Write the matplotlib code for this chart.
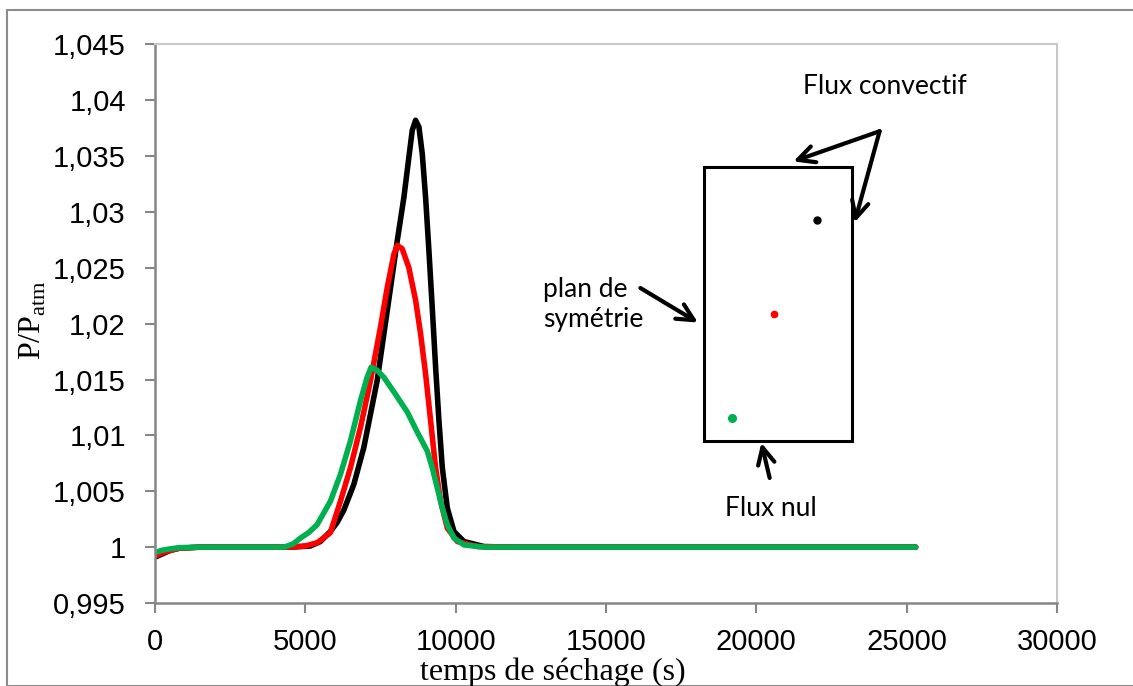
import matplotlib
matplotlib.use("Agg")
import matplotlib.pyplot as plt
from matplotlib.patches import Rectangle
from matplotlib.ticker import FuncFormatter, MultipleLocator

# black curve: point next to the convective face
t_black = [0, 250, 500, 800, 1500, 4500, 5167, 5500, 5833, 6056, 6278, 6611, 6944,
           7389, 7833, 8056, 8278, 8444, 8556, 8667, 8778, 8889, 9000, 9111, 9222,
           9333, 9444, 9556, 9722, 9944, 10278, 10944, 12000, 25300]
p_black = [0.9991, 0.9994, 0.9997, 0.9999, 1.0, 1.0, 1.0001, 1.0005, 1.0014, 1.0022,
           1.0033, 1.0056, 1.0089, 1.0149, 1.0232, 1.0274, 1.0313, 1.0349, 1.0373,
           1.0382, 1.0376, 1.0352, 1.0313, 1.0265, 1.0214, 1.0161, 1.0113, 1.0071,
           1.0035, 1.0014, 1.0005, 1.00005, 1.0, 1.0]

# red curve: centre point
t_red = [0, 250, 500, 800, 1500, 4500, 5000, 5400, 5833, 6167, 6500, 6833, 7167,
         7500, 7722, 7944, 8056, 8222, 8444, 8667, 8833, 9000, 9167, 9333, 9500,
         9722, 10056, 10722, 12000, 25300]
p_red = [0.9992, 0.9995, 0.9997, 0.9999, 1.0, 1.0, 1.0001, 1.0004, 1.0013, 1.0041,
         1.0071, 1.0107, 1.0149, 1.0197, 1.0232, 1.0262, 1.0270, 1.0267, 1.0250,
         1.0221, 1.0191, 1.0155, 1.0113, 1.0071, 1.0041, 1.0017, 1.0005, 1.00005,
         1.0, 1.0]

# green curve: point next to the symmetry plane
t_green = [0, 200, 400, 800, 1500, 4300, 4600, 4833, 5111, 5389, 5833, 6167, 6500,
           6833, 7056, 7189, 7400, 7611, 7944, 8389, 8722, 9056, 9222, 9389, 9556,
           9722, 9944, 10278, 10933, 12000, 25300]
p_green = [0.9995, 0.9997, 0.9998, 0.99995, 1.0, 1.0, 1.0003, 1.0008, 1.0013, 1.0020,
           1.0041, 1.0065, 1.0095, 1.0131, 1.0152, 1.0161, 1.0158, 1.0152, 1.0139,
           1.0121, 1.0103, 1.0086, 1.0071, 1.0053, 1.0035, 1.0020, 1.0008, 1.0002,
           1.0, 1.0, 1.0]

xticks = [0, 5000, 10000, 15000, 20000, 25000, 30000]

W, H = 1133, 686
fig = plt.figure(figsize=(W / 100, H / 100), dpi=100)
ax = fig.add_axes([155 / W, 1 - 603 / H, (1057 - 155) / W, (603 - 44.3) / H])

# outer chart frame
fig.patches.append(Rectangle((7 / W, 0), 1.2, 1 - 10 / H, transform=fig.transFigure,
                             fill=False, ec="#8c8c8c", lw=1.5))

for t, p, c in [(t_black, p_black, "black"), (t_red, p_red, "#ff0000"), (t_green, p_green, "#00b050")]:
    ax.plot(t, p, color=c, lw=4, solid_capstyle="round", solid_joinstyle="round")

ax.set_xlim(0, 30000)
ax.set_ylim(0.995, 1.045)
ax.set_xticks(xticks)
ax.yaxis.set_major_locator(MultipleLocator(0.005))
fmt = FuncFormatter(lambda v, pos: ("%g" % round(v, 4)).replace(".", ","))
ax.yaxis.set_major_formatter(fmt)
ax.xaxis.set_major_formatter(FuncFormatter(lambda v, pos: "%d" % v))

for s in ["left", "bottom"]:
    ax.spines[s].set_color("#868686")
    ax.spines[s].set_linewidth(1.8)
for s in ["top", "right"]:
    ax.spines[s].set_color("#c8c8c8")
    ax.spines[s].set_linewidth(1.5)
ax.tick_params(direction="out", length=7, width=1.5, color="#868686", labelsize=21)
ax.tick_params(axis="y", pad=14)
ax.tick_params(axis="x", pad=11)
for lab in ax.get_xticklabels() + ax.get_yticklabels():
    lab.set_fontfamily("Liberation Sans")

serif = {"family": "Liberation Serif", "size": 23}
fig.text(553 / W, 1 - 672 / H, "temps de séchage (s)", ha="center", va="center", fontdict=serif)
fig.text(33 / W, 1 - 320 / H, r"P/P$_{\mathregular{atm}}$", rotation=90, ha="center",
         va="center", fontdict=serif)

# inset sketch of the sample
ann = {"family": "Lato", "size": 19}
ax.add_patch(Rectangle((18257, 1.00954), 23167 - 18257, 1.03401 - 1.00954, fill=False,
                       ec="black", lw=2.2))
ax.plot([22023], [1.02932], "o", color="black", ms=5)
ax.plot([20590], [1.02085], "o", color="#ff0000", ms=4.5)
ax.plot([19190], [1.01157], "o", color="#00b050", ms=5.5)

arrow = dict(arrowstyle="->", lw=3, color="black", mutation_scale=30, shrinkA=0, shrinkB=0)
ax.annotate("", xy=(21233, 1.03452), xytext=(24100, 1.03722), arrowprops=arrow)
ax.annotate("", xy=(23267, 1.02905), xytext=(24100, 1.03722), arrowprops=arrow)
ax.text(24267, 1.04126, "Flux convectif", ha="center", va="center", fontdict=ann)

ax.annotate("", xy=(18057, 1.02010), xytext=(16143, 1.02319), arrowprops=arrow)
ax.text(12900, 1.02168, "plan de\nsymétrie", ha="left", va="center", fontdict=ann,
        linespacing=1.25)

ax.annotate("", xy=(20167, 1.00933), xytext=(20443, 1.00619), arrowprops=arrow)
ax.text(20500, 1.00342, "Flux nul", ha="center", va="center", fontdict=ann)

fig.savefig("out.png", dpi=100)
